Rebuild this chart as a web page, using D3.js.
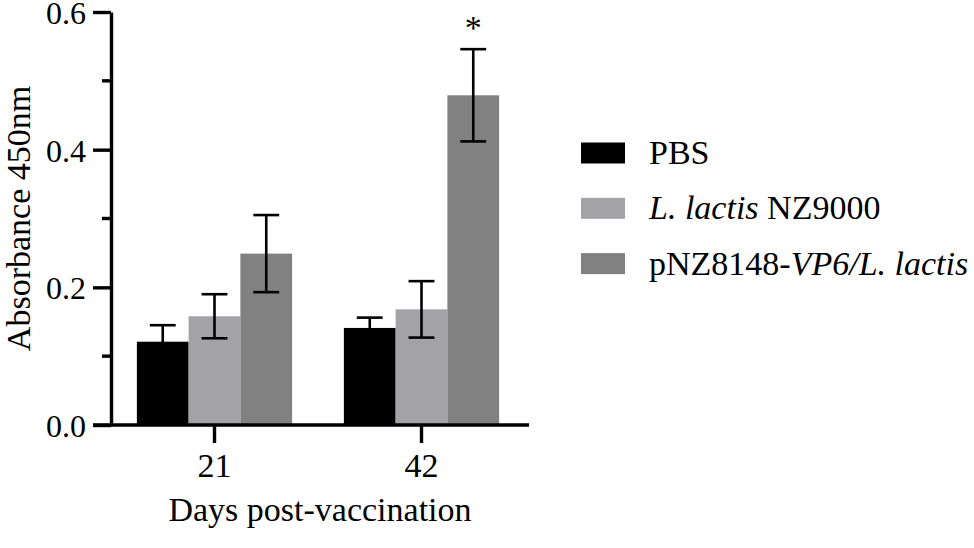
<!DOCTYPE html>
<html>
<head>
<meta charset="utf-8">
<script src="https://cdn.jsdelivr.net/npm/d3@7"></script>
<style>
    body { margin: 0; background: #fff; }
    svg text { font-family: "Liberation Serif", "Times New Roman", serif; fill: #000; }
</style>
</head>
<body>
<div id="chart"></div>
<script>
// chart values
const days = ["21", "42"];
const groups = ["PBS", "L. lactis NZ9000", "pNZ8148-VP6/L. lactis"];
const groupColors = ["#000000", "#a3a3a7", "#818181"];
const meanValues = [
    [0.121, 0.158, 0.249],   // day 21
    [0.141, 0.168, 0.479]    // day 42
];
const errorValues = [
    [0.024, 0.032, 0.056],
    [0.015, 0.041, 0.067]
];
const yTicks = [0.0, 0.2, 0.4, 0.6];
const yMinorTicks = [0.1, 0.3, 0.5];
const significance = [["42", 2, "*"]];

const width = 974, height = 548;
const x0 = 111, yBottom = 425, yTop = 12;

const svg = d3.select("#chart").append("svg")
    .attr("width", width)
    .attr("height", height);

const y = d3.scaleLinear()
    .domain([0, 0.6])
    .range([yBottom, yTop]);

const x = d3.scaleBand()
    .domain(days)
    .range([x0, 525])
    .paddingInner(0.25)
    .paddingOuter(0.125);

const xGroup = d3.scaleBand()
    .domain(d3.range(groups.length))
    .range([0, x.bandwidth()]);

// bars
days.forEach((day, i) => {
    const g = svg.append("g")
        .attr("transform", `translate(${x(day)},0)`);

    g.selectAll("rect")
        .data(meanValues[i])
        .join("rect")
        .attr("x", (d, j) => xGroup(j))
        .attr("y", d => y(d))
        .attr("width", xGroup.bandwidth())
        .attr("height", d => y(0) - y(d))
        .attr("fill", (d, j) => groupColors[j]);

    // error bars
    meanValues[i].forEach((m, j) => {
        const cx = xGroup(j) + xGroup.bandwidth() / 2;
        const e = errorValues[i][j];
        const cap = xGroup.bandwidth() / 4;
        const eg = g.append("g")
            .attr("stroke", "#000")
            .attr("stroke-width", 2.6);
        eg.append("line")
            .attr("x1", cx).attr("x2", cx)
            .attr("y1", y(m - e)).attr("y2", y(m + e));
        eg.append("line")
            .attr("x1", cx - cap).attr("x2", cx + cap)
            .attr("y1", y(m + e)).attr("y2", y(m + e));
        eg.append("line")
            .attr("x1", cx - cap).attr("x2", cx + cap)
            .attr("y1", y(m - e)).attr("y2", y(m - e));
    });
});

// significance marks
significance.forEach(([day, j, mark]) => {
    const i = days.indexOf(day);
    const cx = x(day) + xGroup(j) + xGroup.bandwidth() / 2;
    svg.append("text")
        .attr("x", cx)
        .attr("y", y(meanValues[i][j] + errorValues[i][j]) - 10)
        .attr("text-anchor", "middle")
        .style("font-size", "34px")
        .text(mark);
});

// y axis
const yAxis = d3.axisLeft(y)
    .tickValues(yTicks)
    .tickFormat(d3.format(".1f"))
    .tickSize(18)
    .tickSizeOuter(0)
    .tickPadding(7);

const yAxisG = svg.append("g")
    .attr("transform", `translate(${x0},0)`)
    .call(yAxis);
yAxisG.select(".domain").attr("stroke-width", 3.4);
yAxisG.selectAll(".tick line").attr("stroke-width", 3.4);
yAxisG.selectAll(".tick text")
    .style("font-size", "32px")
    .attr("dy", "0.36em");

yAxisG.selectAll(".minor")
    .data(yMinorTicks)
    .join("line")
    .attr("class", "minor")
    .attr("x1", -9).attr("x2", 0)
    .attr("y1", d => y(d)).attr("y2", d => y(d))
    .attr("stroke", "#000")
    .attr("stroke-width", 3.4);

// x axis
const xAxis = d3.axisBottom(x)
    .tickSize(18)
    .tickSizeOuter(0)
    .tickPadding(10);

const xAxisG = svg.append("g")
    .attr("transform", `translate(0,${yBottom})`)
    .call(xAxis);
xAxisG.select(".domain").remove();
xAxisG.selectAll(".tick line").attr("stroke-width", 3.4);
xAxisG.selectAll(".tick text").style("font-size", "34px");
xAxisG.append("line")
    .attr("x1", x0 - 18).attr("x2", 529)
    .attr("stroke", "#000")
    .attr("stroke-width", 3.4);

// axis titles
svg.append("text")
    .attr("x", (x0 + 529) / 2)
    .attr("y", 521)
    .attr("text-anchor", "middle")
    .style("font-size", "34px")
    .text("Days post-vaccination");

svg.append("text")
    .attr("transform", `translate(30,${(yTop + yBottom) / 2}) rotate(-90)`)
    .attr("text-anchor", "middle")
    .style("font-size", "34px")
    .text("Absorbance 450nm");

// legend
const legend = svg.append("g")
    .attr("transform", "translate(581,153)");

const legendItems = legend.selectAll("g")
    .data(groups)
    .join("g")
    .attr("transform", (d, i) => `translate(0,${i * 55.3})`);

legendItems.append("rect")
    .attr("x", 0)
    .attr("y", -10.5)
    .attr("width", 44)
    .attr("height", 21)
    .attr("fill", (d, i) => groupColors[i]);

const legendText = legendItems.append("text")
    .attr("x", 68)
    .attr("y", 11)
    .style("font-size", "34px");

// italic parts of the group names
legendText.each(function(d) {
    const t = d3.select(this);
    if (d === "PBS") {
        t.text(d);
    } else if (d === "L. lactis NZ9000") {
        t.append("tspan").style("font-style", "italic").text("L. lactis");
        t.append("tspan").text(" NZ9000");
    } else {
        t.append("tspan").text("pNZ8148-");
        t.append("tspan").style("font-style", "italic").text("VP6/L. lactis");
    }
});
</script>
</body>
</html>
